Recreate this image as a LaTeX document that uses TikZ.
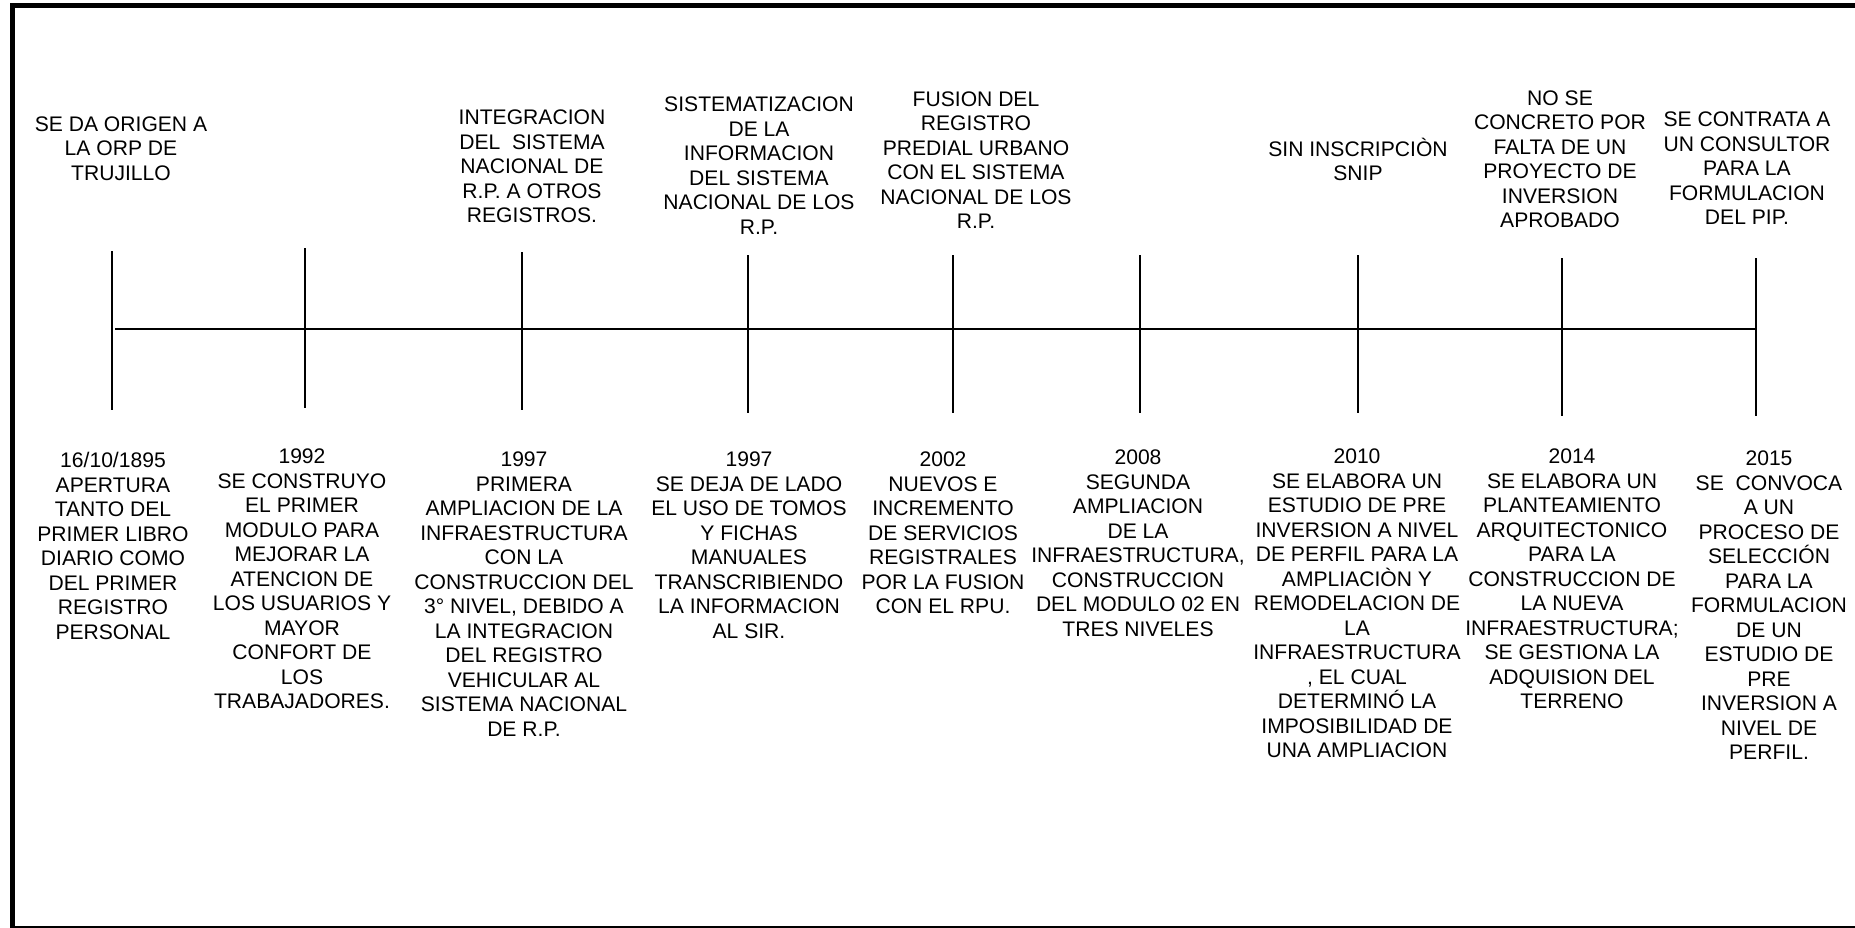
\documentclass[tikz,border=0pt]{standalone}
\usepackage{fontspec}
\setmainfont{Liberation Sans}
\begin{document}
\begin{tikzpicture}[x=1pt,y=-1pt,
  lbl/.style={font=\fontsize{21.1}{24.5}\selectfont, align=center, inner sep=0pt, anchor=base},
  tickline/.style={line width=2pt, draw=black},
  frameline/.style={line width=5pt, draw=black}]
\useasboundingbox (0,0) rectangle (1855,928);
% frame
\draw[frameline] (1862,5.5) -- (12.5,5.5) -- (12.5,930);
\draw[line width=1.5pt] (12.5,927) -- (1862,927);
% ticks
\foreach \n/\x/\a/\b in {1/112/251/410, 2/305/248/408, 3/522/252/410, 4/748/255/413, 5/953/255/413, 6/1140/255/413, 7/1358/255/413, 8/1562/258/416, 9/1756/258/416}{
  \coordinate (ta\n) at (\x,\a);
  \coordinate (tb\n) at (\x,\b);
  \draw[tickline] (ta\n) -- (tb\n);
}
\coordinate (hs) at (115,329);
\coordinate (he) at (1756,329);
\draw[tickline] (hs) -- (he);
% top texts (anchor = baseline of last line)
\node[lbl] (u1) at (121,180.5) {SE DA ORIGEN A\\LA ORP DE\\TRUJILLO};
\node[lbl] (u2) at (532,222.5) {INTEGRACION\\DEL\ \ SISTEMA\\NACIONAL DE\\R.P. A OTROS\\REGISTROS.};
\node[lbl] (u3) at (759,234) {SISTEMATIZACION\\DE LA\\INFORMACION\\DEL SISTEMA\\NACIONAL DE LOS\\R.P.};
\node[lbl] (u4) at (976,229) {FUSION DEL\\REGISTRO\\PREDIAL URBANO\\CON EL SISTEMA\\NACIONAL DE LOS\\R.P.};
\node[lbl] (u5) at (1358,181) {SIN INSCRIPCIÒN\\SNIP};
\node[lbl] (u6) at (1560,228) {NO SE\\CONCRETO POR\\FALTA DE UN\\PROYECTO DE\\INVERSION\\APROBADO};
\node[lbl] (u7) at (1747,224.5) {SE CONTRATA A\\UN CONSULTOR\\PARA LA\\FORMULACION\\DEL PIP.};
% bottom texts
\node[lbl] (d1) at (113,639) {16/10/1895\\APERTURA\\TANTO DEL\\PRIMER LIBRO\\DIARIO COMO\\DEL PRIMER\\REGISTRO\\PERSONAL};
\node[lbl] (d2) at (302,708.5) {1992\\SE CONSTRUYO\\EL PRIMER\\MODULO PARA\\MEJORAR LA\\ATENCION DE\\LOS USUARIOS Y\\MAYOR\\CONFORT DE\\LOS\\TRABAJADORES.};
\node[lbl] (d3) at (524,736) {1997\\PRIMERA\\AMPLIACION DE LA\\INFRAESTRUCTURA\\CON LA\\CONSTRUCCION DEL\\3° NIVEL, DEBIDO A\\LA INTEGRACION\\DEL REGISTRO\\VEHICULAR AL\\SISTEMA NACIONAL\\DE R.P.};
\node[lbl] (d4) at (749,638) {1997\\SE DEJA DE LADO\\EL USO DE TOMOS\\Y FICHAS\\MANUALES\\TRANSCRIBIENDO\\LA INFORMACION\\AL SIR.};
\node[lbl] (d5) at (943,613.5) {2002\\NUEVOS E\\INCREMENTO\\DE SERVICIOS\\REGISTRALES\\POR LA FUSION\\CON EL RPU.};
\node[lbl] (d6) at (1138,636) {2008\\SEGUNDA\\AMPLIACION\\DE LA\\INFRAESTRUCTURA,\\CONSTRUCCION\\DEL MODULO 02 EN\\TRES NIVELES};
\node[lbl] (d7) at (1357,757.5) {2010\\SE ELABORA UN\\ESTUDIO DE PRE\\INVERSION A NIVEL\\DE PERFIL PARA LA\\AMPLIACIÒN Y\\REMODELACION DE\\LA\\INFRAESTRUCTURA\\, EL CUAL\\DETERMINÓ LA\\IMPOSIBILIDAD DE\\UNA AMPLIACION};
\node[lbl] (d8) at (1572,708.5) {2014\\SE ELABORA UN\\PLANTEAMIENTO\\ARQUITECTONICO\\PARA LA\\CONSTRUCCION DE\\LA NUEVA\\INFRAESTRUCTURA;\\SE GESTIONA LA\\ADQUISION DEL\\TERRENO};
\node[lbl] (d9) at (1769,759.5) {2015\\SE\ \ CONVOCA\\A UN\\PROCESO DE\\SELECCIÓN\\PARA LA\\FORMULACION\\DE UN\\ESTUDIO DE\\PRE\\INVERSION A\\NIVEL DE\\PERFIL.};
\end{tikzpicture}
\end{document}
